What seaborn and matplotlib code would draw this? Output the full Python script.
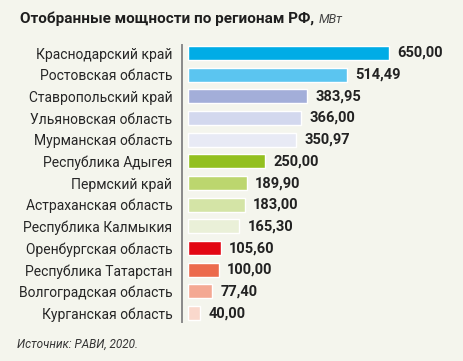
import matplotlib
matplotlib.use("Agg")
import matplotlib.pyplot as plt
import pandas as pd
import seaborn as sns

regions = ["Краснодарский край", "Ростовская область", "Ставропольский край",
           "Ульяновская область", "Мурманская область", "Республика Адыгея",
           "Пермский край", "Астраханская область", "Республика Калмыкия",
           "Оренбургская область", "Республика Татарстан", "Волгоградская область",
           "Курганская область"]
power_mw = [650.00, 514.49, 383.95, 366.00, 350.97, 250.00,
            189.90, 183.00, 165.30, 105.60, 100.00, 77.40, 40.00]
bar_colors = ["#00ace6", "#5bc5f0", "#a3aed9", "#d3d8ee", "#e8eaf5", "#93c01f",
              "#bcd66e", "#d4e4a6", "#eaf0d8", "#e30613", "#ec6a4d", "#f4a893",
              "#fad8cc"]

df = pd.DataFrame({"Регион": regions, "МВт": power_mw})

bg = "#f4f5ed"
sns.set_style("white")
plt.rcParams["font.family"] = ["Roboto", "DejaVu Sans"]

fig = plt.figure(figsize=(4.64, 3.61), dpi=100, facecolor=bg)
ax = fig.add_axes([182 / 464, 1 - 322 / 361, 278 / 464, 277 / 361])
ax.set_facecolor(bg)

sns.barplot(data=df, x="МВт", y="Регион", hue="Регион", palette=bar_colors,
            legend=False, width=0.65, ax=ax, saturation=1)

ax.set_xlim(-19.4, 880)
ax.set_ylim(12.41, -0.37)
for s in ["top", "right", "bottom"]:
    ax.spines[s].set_visible(False)
ax.spines["left"].set_color("#8a8a8a")
ax.spines["left"].set_linewidth(1.4)
ax.set_xticks([])
ax.set_xlabel("")
ax.set_ylabel("")
ax.tick_params(axis="y", length=0, pad=7, labelsize=10, labelcolor="#262626")

for c in ax.containers:
    ax.bar_label(c, labels=[f"{v:.2f}".replace(".", ",") for v in c.datavalues],
                 padding=6, fontsize=10.5, fontweight="bold", color="#222222")

title = fig.text(20 / 464, 1 - 23 / 361, "Отобранные мощности по регионам РФ,",
                 fontsize=11, fontweight="bold", color="#1e1e1e", va="baseline")
fig.canvas.draw()
ax.annotate("МВт", xy=(1, 0), xycoords=title, xytext=(3, 0),
            textcoords="offset points", fontsize=9, style="italic",
            color="#444444", va="bottom", annotation_clip=False)
fig.text(17 / 464, 1 - 344 / 361, "Источник: РАВИ, 2020.", fontsize=8.5,
         style="italic", color="#333333", va="center")

fig.savefig("out.png", dpi=100, facecolor=bg)
